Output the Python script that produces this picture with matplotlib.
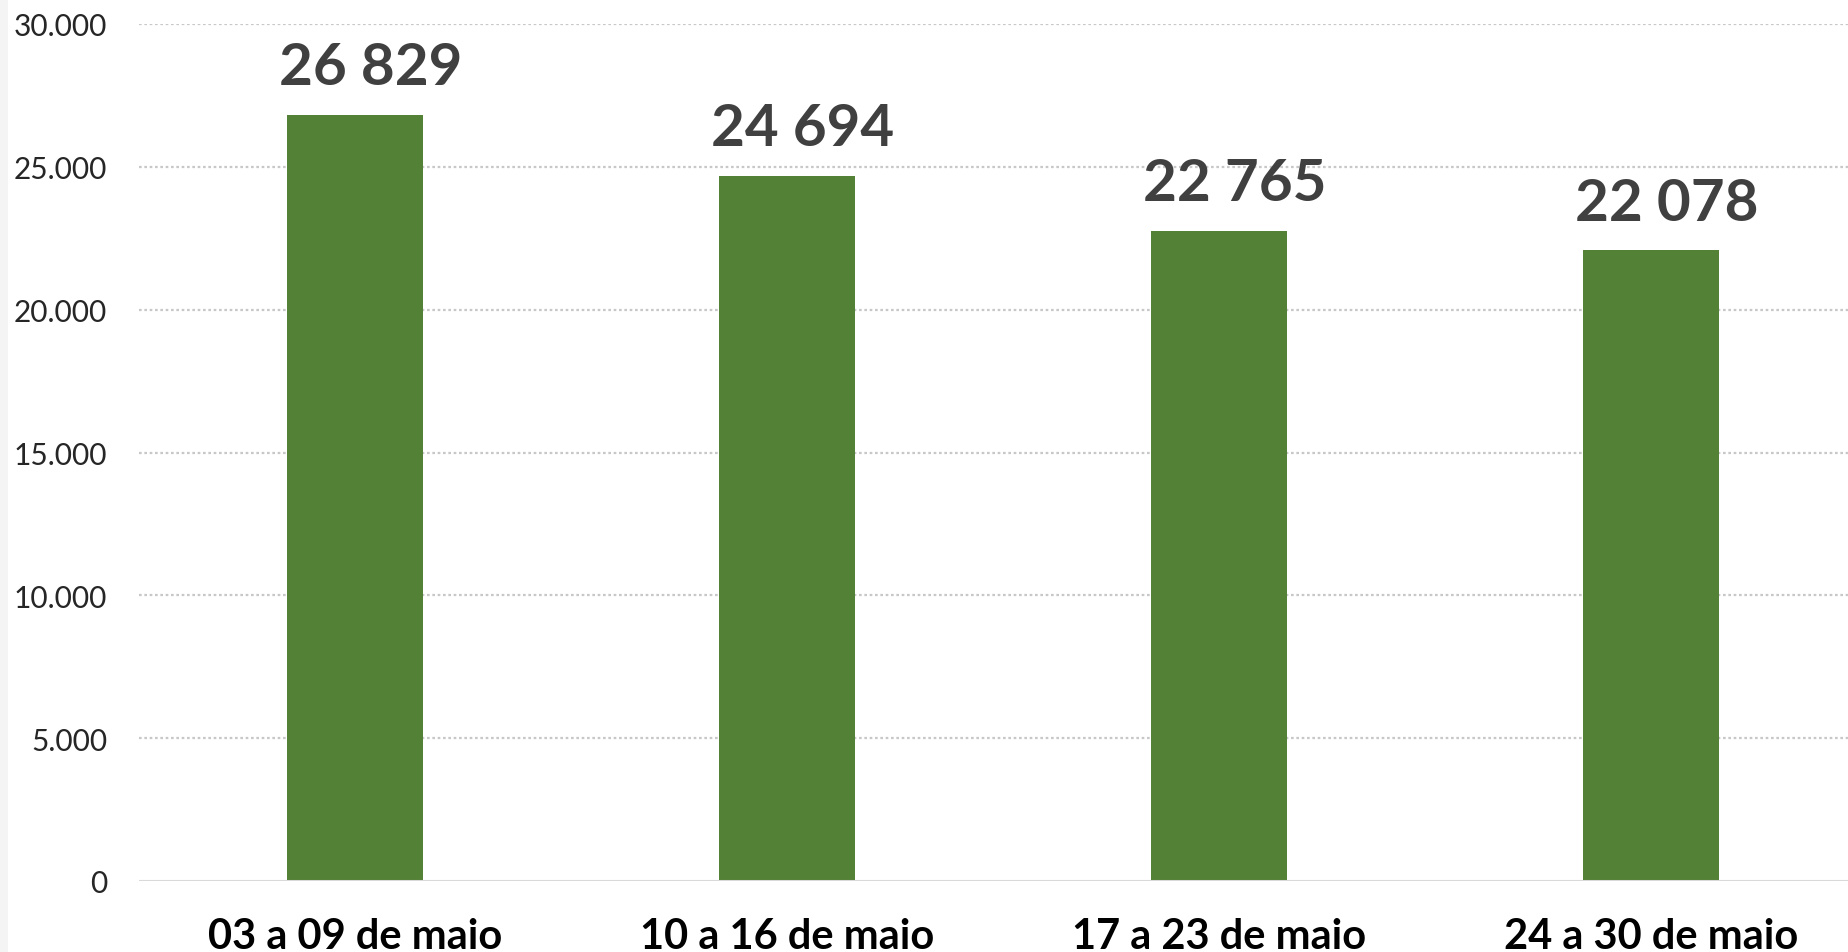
import matplotlib
matplotlib.use("Agg")
import matplotlib.pyplot as plt
from matplotlib.patches import Rectangle

categories = ["03 a 09 de maio", "10 a 16 de maio", "17 a 23 de maio", "24 a 30 de maio"]
values = [26829, 24694, 22765, 22078]
value_labels = ["26 829", "24 694", "22 765", "22 078"]
yticks = [0, 5000, 10000, 15000, 20000, 25000, 30000]
ytick_labels = ["0", "5.000", "10.000", "15.000", "20.000", "25.000", "30.000"]

plt.rcParams['font.family'] = ['Lato', 'DejaVu Sans']

W, H = 1849, 953
fig = plt.figure(figsize=(W / 100, H / 100), dpi=100)
fig.patch.set_facecolor("white")
fig.add_artist(Rectangle((0, 0), 8 / W, 1, transform=fig.transFigure,
                         facecolor="#f4f4f4", edgecolor="none"))

left, right = 139 / W, 1.0
bottom, top = 1 - 882 / H, 1 - 25 / H
ax = fig.add_axes([left, bottom, right - left, top - bottom])

x = list(range(len(categories)))
ax.bar(x, values, width=0.315, color="#538135", zorder=3)

ax.set_ylim(0, 30000)
ax.set_xlim(-0.5, 3.458)
ax.set_yticks(yticks)
ax.set_yticklabels(ytick_labels, fontsize=21.5, color="#262626")
ax.set_xticks(x)
ax.set_xticklabels(categories, fontsize=30, fontweight="bold", color="black")
for lbl in ax.get_xticklabels():
    lbl.set_va("baseline")
ax.tick_params(axis="x", length=0, pad=48)
ax.tick_params(axis="y", length=0, pad=23)

for v in yticks[1:]:
    ax.axhline(v, color="#c8c8c8", linestyle=(0, (1.2, 1.2)), linewidth=1.6, zorder=1)
ax.axhline(0, color="#d9d9d9", linewidth=2.2, zorder=4)

for s in ax.spines.values():
    s.set_visible(False)

for xi, v, t in zip(x, values, value_labels):
    ax.annotate(t, xy=(xi, v), xytext=(11, 22), textcoords="offset points",
                ha="center", va="baseline", fontsize=42, fontweight="bold",
                color="#404040", zorder=5)

fig.savefig("out.png", dpi=100)
